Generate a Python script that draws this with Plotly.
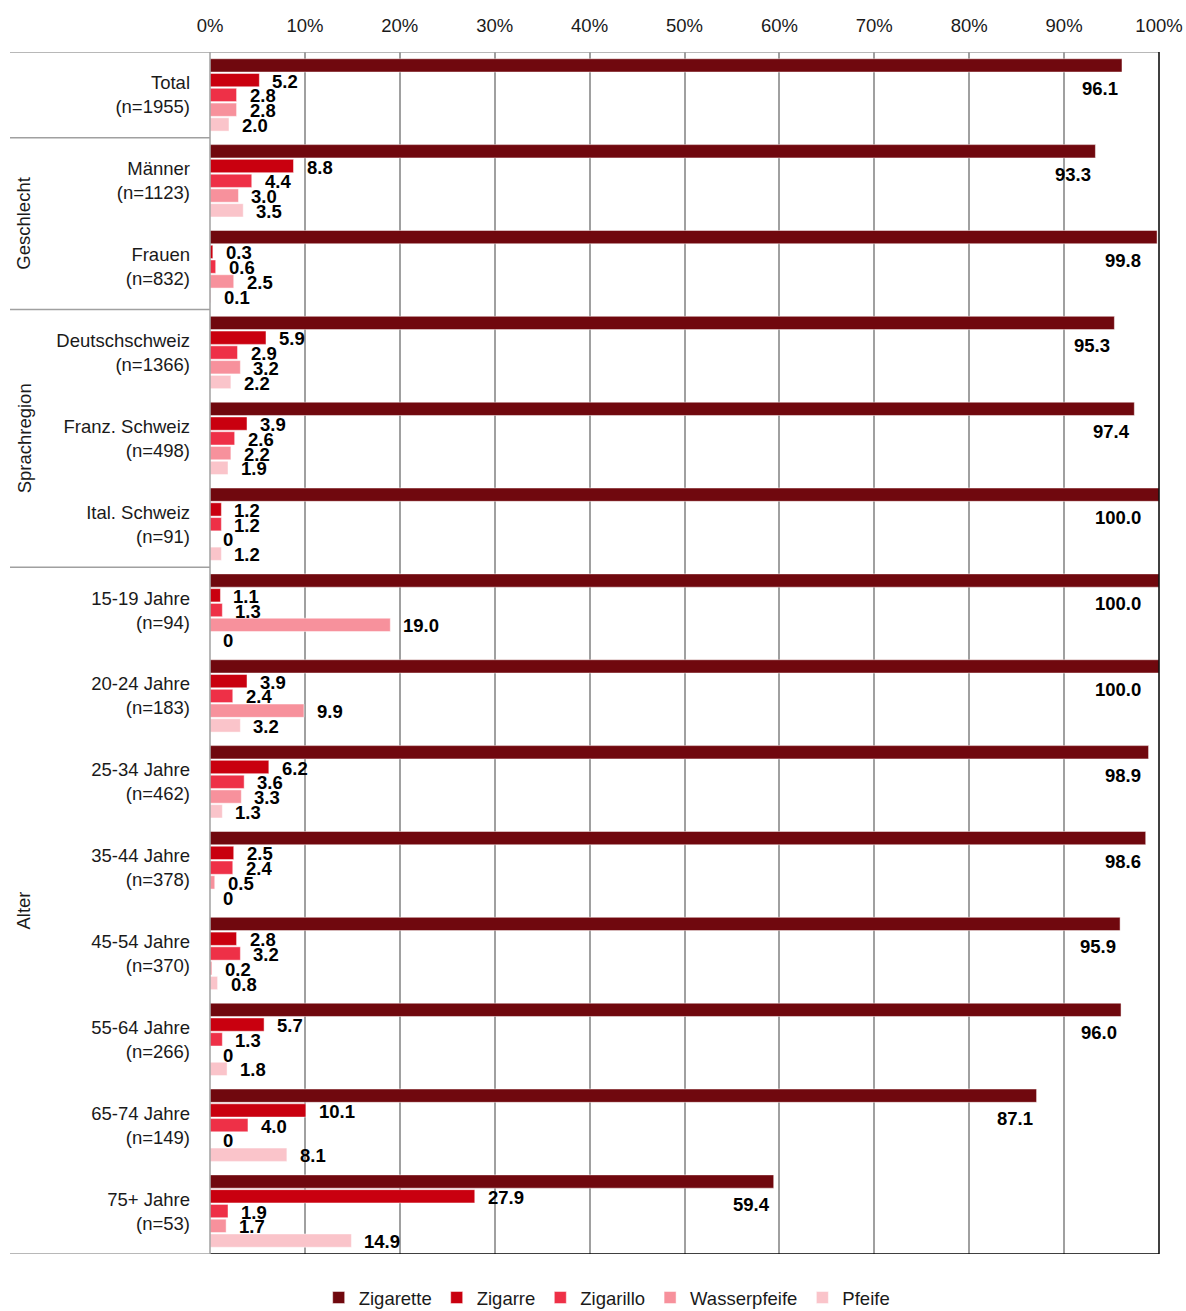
import plotly.graph_objects as go

categories = [
    "Total<br>(n=1955)",
    "Männer<br>(n=1123)",
    "Frauen<br>(n=832)",
    "Deutschschweiz<br>(n=1366)",
    "Franz. Schweiz<br>(n=498)",
    "Ital. Schweiz<br>(n=91)",
    "15-19 Jahre<br>(n=94)",
    "20-24 Jahre<br>(n=183)",
    "25-34 Jahre<br>(n=462)",
    "35-44 Jahre<br>(n=378)",
    "45-54 Jahre<br>(n=370)",
    "55-64 Jahre<br>(n=266)",
    "65-74 Jahre<br>(n=149)",
    "75+ Jahre<br>(n=53)",
]

zigarette = [96.1, 93.3, 99.8, 95.3, 97.4, 100.0, 100.0, 100.0, 98.9, 98.6, 95.9, 96.0, 87.1, 59.4]
zigarre = [5.2, 8.8, 0.3, 5.9, 3.9, 1.2, 1.1, 3.9, 6.2, 2.5, 2.8, 5.7, 10.1, 27.9]
zigarillo = [2.8, 4.4, 0.6, 2.9, 2.6, 1.2, 1.3, 2.4, 3.6, 2.4, 3.2, 1.3, 4.0, 1.9]
wasserpfeife = [2.8, 3.0, 2.5, 3.2, 2.2, 0.0, 19.0, 9.9, 3.3, 0.5, 0.2, 0.0, 0.0, 1.7]
pfeife = [2.0, 3.5, 0.1, 2.2, 1.9, 1.2, 0.0, 3.2, 1.3, 0.0, 0.8, 1.8, 8.1, 14.9]

series_names = ["Zigarette", "Zigarre", "Zigarillo", "Wasserpfeife", "Pfeife"]
series_values = [zigarette, zigarre, zigarillo, wasserpfeife, pfeife]
colors = ["#70080E", "#C9000F", "#EE3047", "#F7919C", "#FAC4CA"]

groups = [("Geschlecht", 1, 2), ("Sprachregion", 3, 5), ("Alter", 6, 13)]
group_breaks = [0.5, 2.5, 5.5]

FONT = "Liberation Sans, Arial, sans-serif"
FS = 18.5
TXT = "#1A1A1A"
BARGAP = 0.14
n_series = len(series_names)
slot = (1 - BARGAP) / n_series

def fmt(v):
    return "0" if v == 0 else f"{v:.1f}"

ypos = list(range(len(categories)))

fig = go.Figure()
for name, vals, col in zip(series_names, series_values, colors):
    fig.add_trace(go.Bar(
        x=vals, y=ypos, name=name, orientation="h",
        marker=dict(color=col, line=dict(width=0.6, color="rgba(255,255,255,0.8)")),
        hoverinfo="x+name",
    ))

annotations = []
for k, vals in enumerate(series_values):
    off = (k - (n_series - 1) / 2) * slot
    for i, v in enumerate(vals):
        if k == 0:
            annotations.append(dict(
                x=min(v, 98.5), y=i + off, xref="x", yref="y", text=fmt(v),
                showarrow=False, xanchor="right", yanchor="middle",
                xshift=-2, yshift=-23,
                font=dict(family=FONT, size=FS, color="#000000", weight="bold"),
            ))
        else:
            annotations.append(dict(
                x=v, y=i + off, xref="x", yref="y", text=fmt(v),
                showarrow=False, xanchor="left", yanchor="middle",
                xshift=11, yshift=-1,
                font=dict(family=FONT, size=FS, color="#000000", weight="bold"),
            ))

PLOT_W = 949
LEFT_EDGE = -200 / PLOT_W
for label, a, b in groups:
    annotations.append(dict(
        x=-186 / PLOT_W, y=(a + b) / 2, xref="paper", yref="y", text=label,
        showarrow=False, textangle=-90, xanchor="center", yanchor="middle",
        font=dict(family=FONT, size=FS, color=TXT),
    ))

shapes = []
grey = "#A0A0A0"
top = -0.5
bottom = len(categories) - 0.5
for yb in [top] + group_breaks + [bottom]:
    shapes.append(dict(type="line", xref="paper", yref="y", x0=LEFT_EDGE, x1=0,
                       y0=yb, y1=yb, line=dict(color=grey, width=1.5)))
shapes.append(dict(type="line", xref="paper", yref="y", x0=0, x1=1,
                   y0=top, y1=top, line=dict(color=grey, width=1.5)))
shapes.append(dict(type="line", xref="paper", yref="y", x0=0, x1=1,
                   y0=bottom, y1=bottom, line=dict(color="#000000", width=1.5)))
shapes.append(dict(type="line", xref="paper", yref="y", x0=0, x1=0,
                   y0=top, y1=bottom, line=dict(color=grey, width=1.5)))
shapes.append(dict(type="line", xref="paper", yref="y", x0=1, x1=1,
                   y0=top, y1=bottom, line=dict(color="#000000", width=1.5)))

fig.update_layout(
    width=1186, height=1311,
    margin=dict(l=210, r=27, t=52, b=57, autoexpand=False),
    paper_bgcolor="white", plot_bgcolor="white",
    barmode="group", bargap=BARGAP, bargroupgap=0.1,
    font=dict(family=FONT, size=FS, color=TXT),
    xaxis=dict(
        side="top", range=[0, 100], dtick=10, ticksuffix="%",
        showgrid=True, gridcolor=grey, gridwidth=1.5, zeroline=False,
        showline=False, ticks="", fixedrange=True, automargin=False,
        ticklabelstandoff=15, ticklabeloverflow="allow",
        tickfont=dict(family=FONT, size=FS, color=TXT),
    ),
    yaxis=dict(
        range=[bottom, top], tickvals=ypos, ticktext=categories,
        showgrid=False, zeroline=False, showline=False, ticks="",
        ticklabelstandoff=19, automargin=False,
        tickfont=dict(family=FONT, size=FS, color=TXT),
    ),
    legend=dict(
        orientation="h", x=0.418, xanchor="center", y=-0.0366, yanchor="middle",
        font=dict(family=FONT, size=FS, color=TXT),
        itemwidth=30, traceorder="normal",
    ),
    annotations=annotations,
    shapes=shapes,
)

fig.write_html(
    "out.html",
    config={"displayModeBar": False},
    post_script="document.body.style.margin='0';document.body.style.overflow='hidden';",
)
